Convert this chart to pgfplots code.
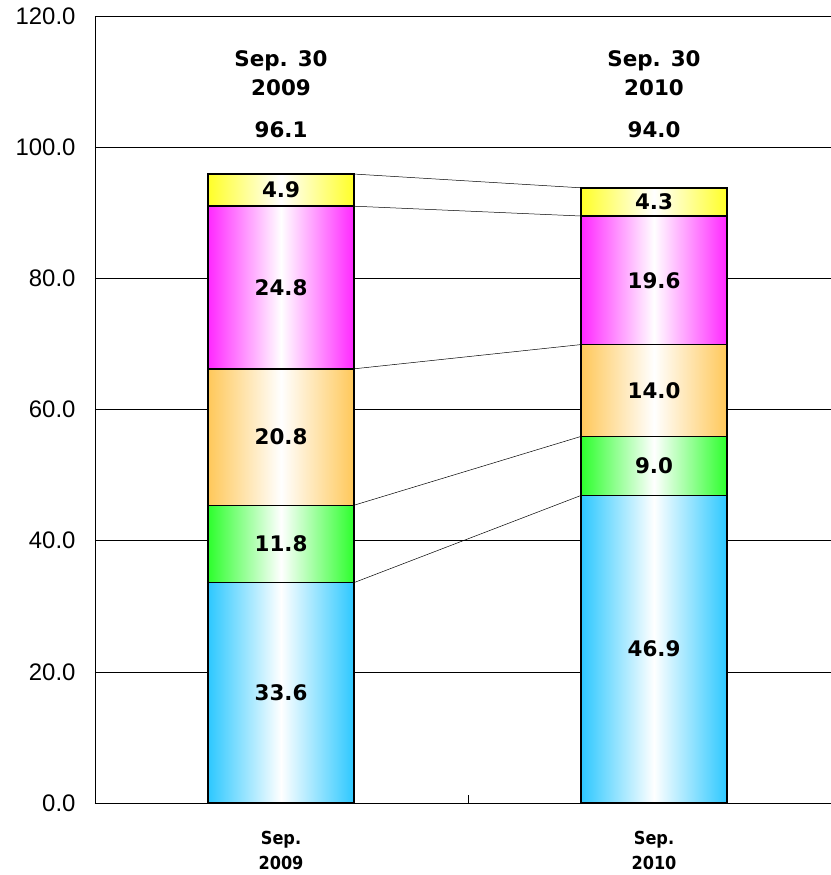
\documentclass[border=0pt]{standalone}
\usepackage{fontspec}
\setmainfont{DejaVu Sans}
\newfontfamily\ticksfont{Liberation Sans}
\newfontfamily\condfont{DejaVu Sans Condensed}
\usepackage{pgfplots}
\pgfplotsset{compat=1.18}
\definecolor{cblue}{RGB}{45,200,255}
\definecolor{cgreen}{RGB}{45,255,45}
\definecolor{corange}{RGB}{255,200,90}
\definecolor{cmag}{RGB}{255,40,255}
\definecolor{cyel}{RGB}{255,255,40}
\begin{document}
\begin{tikzpicture}
\pgfplotsset{
  base/.style={
    scale only axis, width=736bp, height=787bp,
    xmin=-0.4987, xmax=1.4745, ymin=0, ymax=120,
    clip=false,
  },
  barax/.style={base, ybar stacked, bar width=0.391,
    every axis plot/.append style={draw=black, line width=1.5pt}},
  sh/.style={left color=#1, right color=#1, middle color=white},
}
\begin{axis}[barax, name=main,
  axis x line*=bottom, axis y line*=left,
  axis line style={black, line width=0.8pt},
  ytick={0,20,...,120}, ymajorgrids,
  grid style={black, line width=0.6pt},
  ytick style={draw=none},
  yticklabel style={font=\ticksfont\fontsize{24}{26}\selectfont, xshift=-16bp,
    /pgf/number format/.cd, fixed, fixed zerofill, precision=1, assume math mode=true},
  xtick={0,1}, xticklabels={Sep.\\2009, Sep.\\2010},
  xticklabel style={align=center, font=\condfont\bfseries\fontsize{18}{25}\selectfont, yshift=-25bp},
  major x tick style={draw=none},
  extra x ticks={0.501}, extra x tick labels={},
  extra x tick style={major tick length=8bp, tick align=inside, major x tick style={draw=black, line width=0.6pt}},
]
\addplot[sh=cblue] coordinates {(0,33.6)};
\addplot[sh=cgreen] coordinates {(0,11.8)};
\addplot[sh=corange] coordinates {(0,20.8)};
\addplot[sh=cmag] coordinates {(0,24.8)};
\addplot[sh=cyel] coordinates {(0,4.9)};
\end{axis}
\begin{axis}[barax, hide axis]
\addplot[sh=cblue] coordinates {(1,46.9)};
\addplot[sh=cgreen] coordinates {(1,9.0)};
\addplot[sh=corange] coordinates {(1,14.0)};
\addplot[sh=cmag] coordinates {(1,19.6)};
\addplot[sh=cyel] coordinates {(1,4.3)};
\end{axis}
\begin{axis}[base, hide axis]
\addplot[black, line width=0.5pt] coordinates {(0.1955,33.6) (0.8045,46.9)};
\addplot[black, line width=0.5pt] coordinates {(0.1955,45.4) (0.8045,55.9)};
\addplot[black, line width=0.5pt] coordinates {(0.1955,66.2) (0.8045,69.9)};
\addplot[black, line width=0.5pt] coordinates {(0.1955,91.0) (0.8045,89.5)};
\addplot[black, line width=0.5pt] coordinates {(0.1955,95.9) (0.8045,93.8)};
\addplot[draw=none, mark=none, nodes near coords, point meta=explicit symbolic,
  every node near coord/.append style={anchor=center, font=\bfseries\fontsize{21.5}{24}\selectfont, text=black}]
  coordinates {
  (0,16.8) [33.6] (0,39.5) [11.8] (0,55.8) [20.8] (0,78.6) [24.8] (0,93.45) [4.9]
  (1,23.45) [46.9] (1,51.4) [9.0] (1,62.9) [14.0] (1,79.7) [19.6] (1,91.65) [4.3]
  (0,113.1) [Sep. 30] (0,109.0) [2009] (0,102.6) [96.1]
  (1,113.1) [Sep. 30] (1,109.0) [2010] (1,102.6) [94.0]
  };
\end{axis}
\pgfresetboundingbox
\path ([xshift=-95bp,yshift=-72bp]main.south west) rectangle ([yshift=16bp]main.north east);
\end{tikzpicture}
\end{document}
